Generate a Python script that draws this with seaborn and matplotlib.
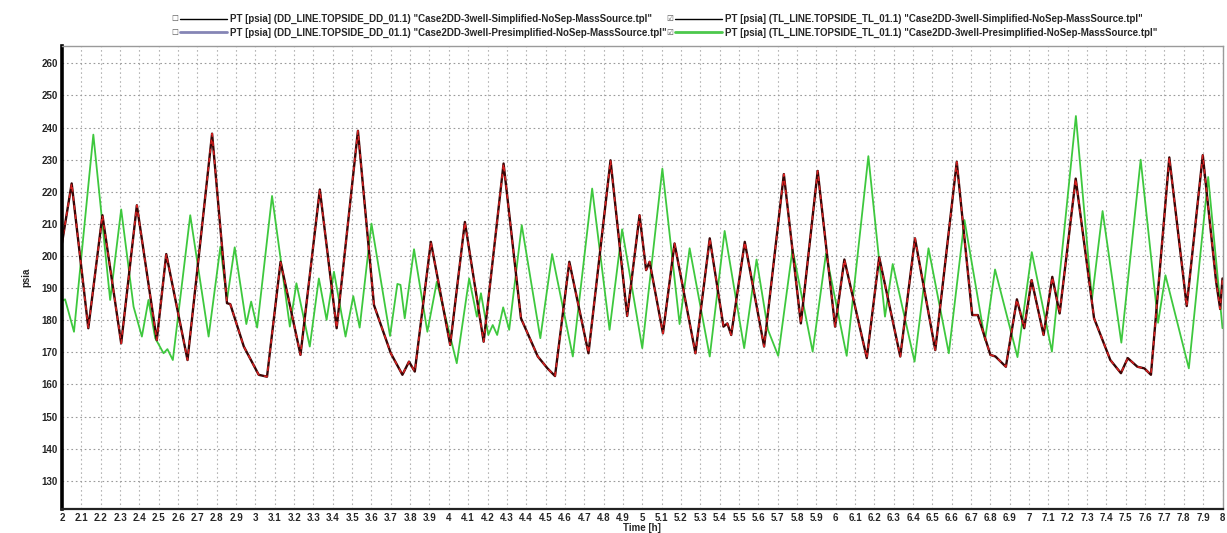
import numpy as np
import pandas as pd
import matplotlib
matplotlib.use("Agg")
import matplotlib.pyplot as plt
import seaborn as sns
from matplotlib.lines import Line2D

# ---------------- data ----------------
sim_time = [2.00, 2.05, 2.136, 2.209, 2.306, 2.387, 2.49, 2.539, 2.649, 2.776,
            2.853, 2.87, 2.94, 3.017, 3.06, 3.13, 3.233, 3.333, 3.42, 3.53,
            3.613, 3.70, 3.76, 3.794, 3.824, 3.907, 4.007, 4.083, 4.18, 4.283,
            4.373, 4.46, 4.51, 4.549, 4.623, 4.722, 4.836, 4.922, 4.986, 5.02,
            5.038, 5.107, 5.167, 5.275, 5.349, 5.42, 5.44, 5.46, 5.53, 5.63,
            5.732, 5.82, 5.907, 5.997, 6.045, 6.161, 6.225, 6.334, 6.41, 6.515,
            6.626, 6.706, 6.735, 6.80, 6.826, 6.88, 6.937, 6.975, 7.013, 7.075,
            7.12, 7.158, 7.241, 7.336, 7.42, 7.475, 7.51, 7.56, 7.596, 7.63,
            7.725, 7.815, 7.898, 7.967, 7.988, 8.00]
sim_psia = [204.0, 222.6, 177.5, 212.7, 172.8, 215.8, 173.8, 200.6, 167.6, 238.1,
            185.3, 185.0, 171.8, 163.0, 162.4, 198.2, 169.2, 220.7, 177.5, 239.0,
            184.7, 169.7, 163.0, 167.1, 164.0, 204.4, 172.3, 210.6, 173.3, 228.8,
            180.6, 168.7, 165.0, 162.6, 198.2, 169.7, 229.8, 181.3, 212.7, 195.6,
            198.2, 175.9, 203.9, 169.7, 205.5, 178.0, 179.0, 175.4, 204.4, 171.8,
            225.5, 179.0, 226.5, 178.0, 198.9, 168.2, 199.6, 168.7, 205.5, 170.7,
            229.3, 181.6, 181.6, 169.2, 168.7, 165.5, 186.5, 177.5, 192.5, 175.4,
            193.5, 182.1, 224.1, 180.6, 167.6, 163.5, 168.2, 165.5, 165.0, 163.0,
            230.7, 184.4, 231.4, 192.0, 183.5, 193.0]

pre_time = [2.00, 2.016, 2.062, 2.162, 2.249, 2.306, 2.37, 2.413, 2.447, 2.482,
            2.525, 2.545, 2.573, 2.663, 2.758, 2.819, 2.853, 2.893, 2.953, 2.978,
            3.009, 3.086, 3.178, 3.212, 3.281, 3.328, 3.368, 3.406, 3.466, 3.506,
            3.539, 3.60, 3.696, 3.734, 3.75, 3.772, 3.82, 3.889, 3.938, 4.041,
            4.105, 4.145, 4.166, 4.204, 4.227, 4.25, 4.281, 4.312, 4.377, 4.473,
            4.534, 4.641, 4.741, 4.831, 4.896, 5.00, 5.104, 5.193, 5.245, 5.349,
            5.426, 5.527, 5.591, 5.65, 5.703, 5.777, 5.881, 5.95, 6.057, 6.169,
            6.255, 6.295, 6.408, 6.48, 6.585, 6.666, 6.772, 6.824, 6.94, 7.014,
            7.118, 7.242, 7.325, 7.38, 7.477, 7.577, 7.667, 7.705, 7.826, 7.926,
            8.00]
pre_psia = [186.0, 186.5, 176.4, 237.8, 186.3, 214.5, 184.2, 174.9, 186.3, 174.4,
            169.7, 171.0, 167.6, 212.7, 174.9, 202.9, 186.3, 202.7, 178.8, 185.8,
            177.7, 218.7, 178.0, 191.5, 171.8, 193.0, 180.1, 195.1, 174.9, 187.5,
            177.7, 210.1, 175.1, 191.3, 191.0, 180.6, 202.1, 176.4, 192.0, 166.6,
            193.0, 181.1, 188.4, 175.4, 178.5, 175.4, 184.0, 177.0, 209.6, 174.4,
            200.6, 168.7, 221.0, 177.0, 208.3, 171.3, 227.2, 178.8, 202.4, 168.7,
            207.8, 171.3, 198.9, 177.0, 168.9, 202.1, 170.2, 200.8, 168.9, 231.1,
            181.1, 197.5, 167.1, 202.4, 169.7, 211.2, 173.8, 195.8, 168.5, 201.2,
            170.2, 243.6, 186.5, 214.0, 173.0, 230.0, 179.2, 194.0, 165.0, 224.6,
            177.5]

legend_labels = [
    'PT [psia] (DD_LINE.TOPSIDE_DD_01.1) "Case2DD-3well-Simplified-NoSep-MassSource.tpl"',
    'PT [psia] (DD_LINE.TOPSIDE_DD_01.1) "Case2DD-3well-Presimplified-NoSep-MassSource.tpl"',
    'PT [psia] (TL_LINE.TOPSIDE_TL_01.1) "Case2DD-3well-Simplified-NoSep-MassSource.tpl"',
    'PT [psia] (TL_LINE.TOPSIDE_TL_01.1) "Case2DD-3well-Presimplified-NoSep-MassSource.tpl"',
]
legend_checked = [False, False, True, True]
x_ticks = [round(2 + 0.1 * i, 1) for i in range(61)]
y_ticks = list(range(130, 261, 10))

# ---------------- style ----------------
sns.set_style("white")
plt.rcParams['font.family'] = ['Liberation Sans', 'DejaVu Sans']
plt.rcParams['font.weight'] = 'bold'

W, H = 1227, 533
fig = plt.figure(figsize=(W / 100, H / 100), dpi=100)
ax = fig.add_axes([62 / W, 1 - 509 / H, (1222.5 - 62) / W, (509 - 46) / H])

df_sim = pd.DataFrame({'Time [h]': sim_time, 'psia': sim_psia})
df_pre = pd.DataFrame({'Time [h]': pre_time, 'psia': pre_psia})

sns.lineplot(data=df_pre, x='Time [h]', y='psia', ax=ax, color='#3ec83e',
             lw=1.3, estimator=None, sort=False)
sns.lineplot(data=df_sim, x='Time [h]', y='psia', ax=ax, color='#3a0505',
             lw=1.7, estimator=None, sort=False)
sns.lineplot(data=df_sim, x='Time [h]', y='psia', ax=ax, color='#d82020',
             lw=1.1, estimator=None, sort=False, linestyle=(0, (3, 3)))

ax.set_xlim(2, 8)
ax.set_ylim(121.2, 265.4)
ax.set_xticks(x_ticks)
ax.set_xticklabels([f"{v:g}" for v in x_ticks])
ax.set_yticks(y_ticks)
ax.set_yticklabels([str(v) for v in y_ticks])
ax.tick_params(axis='both', length=0, labelsize=7, pad=3)
for lab in ax.get_xticklabels() + ax.get_yticklabels():
    lab.set_fontweight('bold')

ax.grid(True, axis='y', color='#9a9a9a', linestyle=(0, (1.5, 2.5)), lw=0.8)
ax.grid(True, axis='x', color='#b4b4b4', linestyle=(0, (1.5, 2.5)), lw=0.8)
ax.set_axisbelow(True)

for side in ['top', 'right']:
    ax.spines[side].set_color('#9a9a9a')
    ax.spines[side].set_linewidth(1.0)
ax.spines['left'].set_color('black')
ax.spines['left'].set_linewidth(2.6)
ax.spines['bottom'].set_color('#222222')
ax.spines['bottom'].set_linewidth(1.6)

ax.set_xlabel('Time [h]', fontsize=7, fontweight='bold', labelpad=0)
ax.set_ylabel('psia', fontsize=7, fontweight='bold', labelpad=7)

handles = [
    Line2D([], [], color='black', lw=1.0),
    Line2D([], [], color='#8585b5', lw=2.0),
    Line2D([], [], color='black', lw=1.0),
    Line2D([], [], color='#4cc84c', lw=2.0),
]
leg = fig.legend(handles, legend_labels, ncol=2, loc='upper left',
                 bbox_to_anchor=(180 / W, 1 - 14 / H), frameon=False,
                 prop={'size': 7, 'weight': 'bold'}, handlelength=4.8,
                 handletextpad=0.3, columnspacing=0.9, labelspacing=0.35,
                 borderpad=0, borderaxespad=0)

fig.canvas.draw()
renderer = fig.canvas.get_renderer()
for line, checked in zip(leg.get_lines(), legend_checked):
    bb = line.get_window_extent(renderer)
    fig.text((bb.x0 - 1.5) / W, (bb.y0 + bb.y1) / 2 / H,
             '\u2611' if checked else '\u2610', ha='right', va='center',
             fontsize=5.5, color='#555555', family=['DejaVu Sans'])

fig.savefig('out.png', dpi=100)
